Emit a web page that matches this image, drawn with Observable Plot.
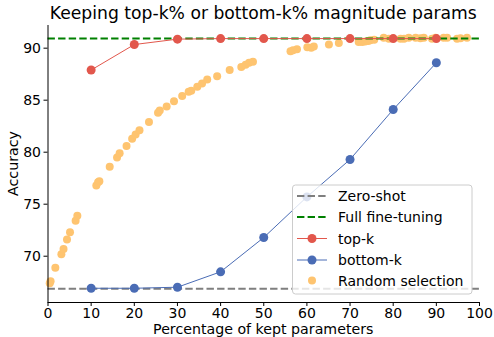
<!DOCTYPE html>
<html><head><meta charset="utf-8">
<script src="https://cdn.jsdelivr.net/npm/d3@7"></script>
<script src="https://cdn.jsdelivr.net/npm/@observablehq/plot@0.6"></script>
<style>body{margin:0;background:#fff} svg{font-family:"DejaVu Sans"}</style>
</head><body><div id="chart"></div>
<script>
const title = "Keeping top-k% or bottom-k% magnitude params";
const xLabel = "Percentage of kept parameters";
const yLabel = "Accuracy";
const xTicks = [0,10,20,30,40,50,60,70,80,90,100];
const yTicks = [70,75,80,85,90];
const percents = [10,20,30,40,50,60,70,80,90];
const topK = [87.9,90.35,90.87,90.92,90.92,90.92,90.92,90.92,90.92];
const bottomK = [66.92,66.92,67.02,68.5,71.8,75.7,79.3,84.1,88.6];
const zeroShot = 66.87;
const fullFT = 90.93;
const randX = [0.4,0.6,1.7,3.1,3.6,4.4,5.1,6.4,6.8,11.2,11.6,11.9,14.3,16.0,16.6,18.2,19.5,20.3,21.2,23.4,25.5,25.9,27.5,29.2,31.1,32.6,33.2,34.6,35.7,36.9,39.2,42.1,44.8,45.8,46.6,47.5,56.2,56.8,57.7,60.1,61.0,61.6,65.1,67.4,72.0,72.8,73.5,74.2,74.7,75.6,77.8,79.0,81.7,82.5,83.6,85.2,86.3,87.1,89.0,89.8,91.7,92.5,94.8,95.6,97.1];
const randY = [67.4,67.6,68.9,70.2,70.7,71.6,72.3,73.4,73.9,76.8,77.1,77.2,78.6,79.5,79.9,80.6,81.3,81.7,82.1,82.9,83.8,84.0,84.4,84.9,85.4,85.8,85.9,86.3,86.6,87.0,87.3,87.9,88.2,88.4,88.6,88.7,89.7,89.8,89.9,90.1,90.05,90.15,90.35,90.5,90.6,90.6,90.65,90.7,90.75,90.8,91.0,90.9,90.9,90.9,91.0,91.0,90.95,91.0,90.9,91.0,91.0,91.0,90.9,90.95,91.0];
const legendLabels = ["Zero-shot","Full fine-tuning","top-k","bottom-k","Random selection"];

const cRed = "#e2574c", cBlue = "#4a6cb5", cOrange = "#fec470", cGray = "#7f7f7f", cGreen = "#008000";

const lineData = percents.map((p,i)=>({p, top: topK[i], bottom: bottomK[i]}));
const randData = randX.map((x,i)=>({x, y: randY[i]}));

const W = 494, H = 337, mL = 47.5, mR = 15, mT = 25, mB = 35;
const chart = Plot.plot({
  width: W, height: H,
  marginLeft: mL, marginRight: mR, marginTop: mT, marginBottom: mB,
  style: {fontFamily: "DejaVu Sans", fontSize: "14px", color: "black", background: "white"},
  x: {domain: [0,100]},
  y: {domain: [65.55, 92.18]},
  marks: [
    Plot.dot(randData, {x: "x", y: "y", r: 4, fill: cOrange, stroke: "none"}),
    Plot.ruleY([zeroShot], {stroke: cGray, strokeWidth: 2, strokeDasharray: "7.4,3.2"}),
    Plot.ruleY([fullFT], {stroke: cGreen, strokeWidth: 2, strokeDasharray: "7.4,3.2"}),
    Plot.line(lineData, {x: "p", y: "top", stroke: cRed, strokeWidth: 1}),
    Plot.dot(lineData, {x: "p", y: "top", r: 4.5, fill: cRed, stroke: "none"}),
    Plot.line(lineData, {x: "p", y: "bottom", stroke: cBlue, strokeWidth: 1}),
    Plot.dot(lineData, {x: "p", y: "bottom", r: 4.5, fill: cBlue, stroke: "none"}),
    Plot.ruleX([0], {stroke: "black", strokeWidth: 1}),
    Plot.ruleY([65.55], {stroke: "black", strokeWidth: 1}),
    Plot.axisX({ticks: xTicks, tickSize: 4, tickPadding: 2, fontSize: 14, label: null}),
    Plot.axisY({ticks: yTicks, tickSize: 4, tickPadding: 3, fontSize: 14, label: null})
  ]
});
document.getElementById("chart").appendChild(chart);

const svg = d3.select(chart);
svg.append("text").attr("x", (mL + W - mR)/2).attr("y", 13).attr("text-anchor","middle")
  .attr("dominant-baseline","central").style("font-size","17.2px").text(title);
svg.append("text").attr("x", (mL + W - mR)/2).attr("y", 329).attr("text-anchor","middle")
  .attr("dominant-baseline","central").style("font-size","14.2px").text(xLabel);
svg.append("text").attr("transform", `translate(13,${(mT + H - mB)/2}) rotate(-90)`).attr("text-anchor","middle")
  .attr("dominant-baseline","central").style("font-size","14.2px").text(yLabel);

// legend
const lg = svg.append("g");
lg.append("rect").attr("x",292.5).attr("y",185).attr("width",179.5).attr("height",109).attr("rx",3)
  .attr("fill","white").attr("fill-opacity",0.8).attr("stroke","#cccccc");
const rowsY = [196, 217, 238.5, 260, 280.5];
const styles = [
  {stroke: cGray, dash: "7.4,3.2", w: 2},
  {stroke: cGreen, dash: "7.4,3.2", w: 2},
  {stroke: cRed, w: 1, dot: cRed, r: 4.5},
  {stroke: cBlue, w: 1, dot: cBlue, r: 4.5},
  {dot: cOrange, r: 4}
];
legendLabels.forEach((lab,i)=>{
  const y = rowsY[i], s = styles[i];
  if (s.stroke) lg.append("line").attr("x1",297).attr("x2",327).attr("y1",y).attr("y2",y)
    .attr("stroke",s.stroke).attr("stroke-width",s.w).attr("stroke-dasharray",s.dash||null);
  if (s.dot) lg.append("circle").attr("cx",312).attr("cy",y).attr("r",s.r).attr("fill",s.dot);
  lg.append("text").attr("x",338).attr("y",y).attr("text-anchor","start")
    .attr("dominant-baseline","central").style("font-size","14px").text(lab);
});
</script></body></html>
